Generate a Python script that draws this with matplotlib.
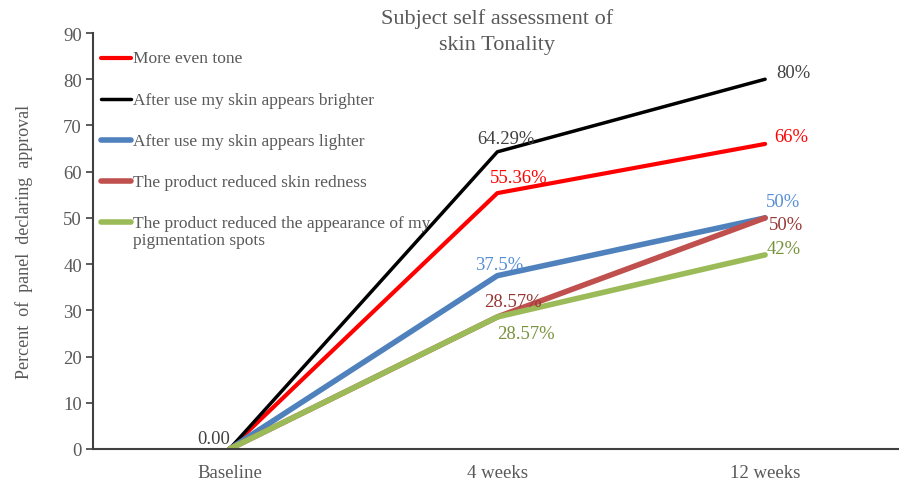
import matplotlib
matplotlib.use("Agg")
from matplotlib import pyplot as plt

plt.rcParams['font.family'] = ['Liberation Serif', 'DejaVu Serif']

# tempos de avaliacao
semanas = ["Baseline", "4 weeks", "12 weeks"]

# percentual de aprovacao por afirmacao
tom_uniforme = [0, 55.36, 66]
mais_brilhante = [0, 64.29, 80]
mais_clara = [0, 37.5, 50]
menos_vermelhidao = [0, 28.57, 50]
menos_manchas = [0, 28.57, 42]

nomes = ["More even tone",
         "After use my skin appears brighter",
         "After use my skin appears lighter",
         "The product reduced skin redness",
         "The product reduced the appearance of my\npigmentation spots"]

cinza = '#595959'

fig = plt.figure(figsize=(8.99, 4.85), dpi=100)
ax = fig.add_axes([93/899, 1 - 450/485, 806/899, 416/485])

x = list(range(len(semanas)))
series = [
    (tom_uniforme, '#ff0000', 3.0),
    (mais_brilhante, '#000000', 2.5),
    (mais_clara, '#4f81bd', 4.0),
    (menos_vermelhidao, '#c0504d', 4.0),
    (menos_manchas, '#9bbb59', 4.0),
]
for (vals, cor, lw), nome in zip(series, nomes):
    ax.plot(x, vals, color=cor, lw=lw, label=nome, solid_capstyle='round')

# rotulos de valor (indice da serie, ponto, texto, deslocamento, cor)
rotulos = [
    (1, 0, "0.00", (-16, 10), '#404040'),
    (1, 1, "64.29%", (9, 13), '#404040'),
    (0, 1, "55.36%", (21, 16), '#ff0000'),
    (2, 1, "37.5%", (2, 11), '#558ed5'),
    (3, 1, "28.57%", (16, 15), '#953735'),
    (4, 1, "28.57%", (29, -17), '#77933c'),
    (1, 2, "80%", (28, 7), '#404040'),
    (0, 2, "66%", (26, 7), '#ff0000'),
    (2, 2, "50%", (18, 16), '#558ed5'),
    (3, 2, "50%", (21, -7), '#953735'),
    (4, 2, "42%", (19, 6), '#77933c'),
]
for s, i, txt, off, cor in rotulos:
    ax.annotate(txt, (x[i], series[s][0][i]), xytext=off, textcoords='offset pixels',
                ha='center', va='center', color=cor, fontsize=13.4)

ax.set_xlim(-0.51, 2.5)
ax.set_ylim(0, 90)
ax.set_yticks(range(0, 91, 10))
ax.set_xticks(x)
ax.set_xticklabels(semanas)
ax.tick_params(axis='x', length=0, pad=11, labelsize=13.5, labelcolor=cinza)
ax.tick_params(axis='y', length=5, width=1.2, color='#404040', labelsize=13.5, labelcolor=cinza, pad=3)
for lado in ['top', 'right']:
    ax.spines[lado].set_visible(False)
for lado in ['left', 'bottom']:
    ax.spines[lado].set_color('#404040')
    ax.spines[lado].set_linewidth(1.5)

ax.set_ylabel("Percent  of  panel  declaring  approval", fontsize=13, color=cinza, labelpad=22)

fig.text(497/899, 1 - 32.5/485, "Subject self assessment of\nskin Tonality", ha='center', va='center',
         fontsize=16, color=cinza, linespacing=1.5)

leg = ax.legend(loc='upper left', bbox_to_anchor=(0.01, 0.958), frameon=False, fontsize=12.5,
                handlelength=1.7, handleheight=1.1, handletextpad=0.15, labelspacing=1.41,
                borderpad=0, borderaxespad=0)
for t in leg.get_texts():
    t.set_color(cinza)
    t.set_linespacing(1.1)
for col in leg._legend_handle_box.get_children():
    for item in col.get_children():
        item.align = 'top'

fig.savefig("out.png", dpi=100)
